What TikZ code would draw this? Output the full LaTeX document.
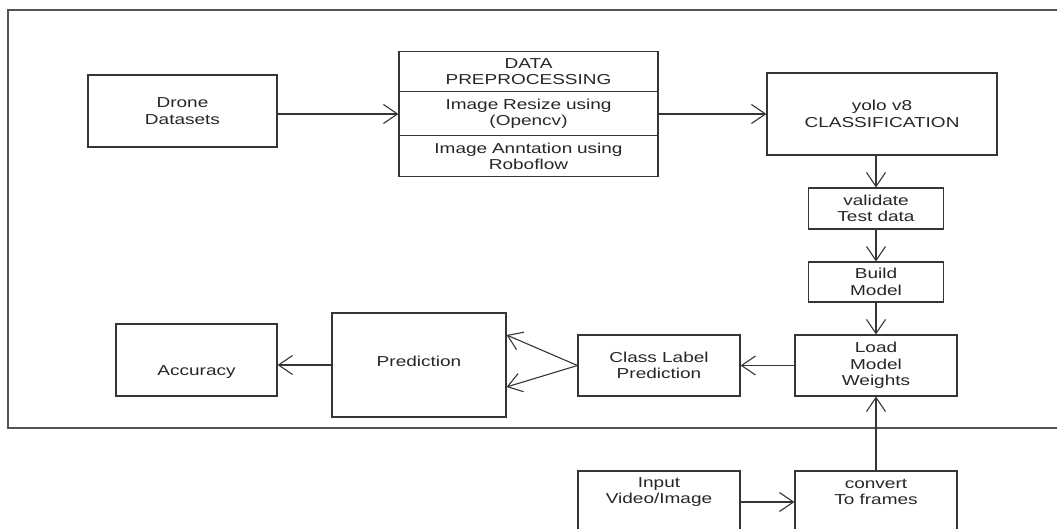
\documentclass[tikz,border=0pt]{standalone}
\usepackage{fontspec}
\setmainfont{Liberation Sans}[FakeStretch=1.32]
\usetikzlibrary{arrows.meta,shapes.multipart}
\definecolor{linec}{HTML}{353535}
\definecolor{textc}{HTML}{262626}

\begin{document}
\begin{tikzpicture}[x=1pt, y=-1pt, font=\fontsize{14.4}{16.5}\selectfont,
    blk/.style={draw=linec, line width=1.1pt, align=center, text=textc, inner sep=0pt},
    txt/.style={align=center, text=textc, inner sep=0pt},
    flow/.style={draw=linec, line width=1.1pt, -{Straight Barb[length=14pt,width=19pt,line width=1.1pt]}}]
        \useasboundingbox (0,0) rectangle (1057,529);
        \clip (0,0) rectangle (1057,529);
        \draw[draw=linec!85, line width=1.4pt] (8,10) rectangle (1100,428);
        \node[blk, minimum width=189, minimum height=72] (drone) at (182.5,111) {Drone\\Datasets};
        \node[blk, rectangle split, rectangle split parts=3, text width=259, inner xsep=0pt, inner ysep=6.5pt] (dp) at (528.5,114)
          {DATA\\PREPROCESSING\nodepart{two}Image Resize using\\(Opencv)\nodepart{three}Image Anntation using\\Roboflow};
        \node[blk, minimum width=230, minimum height=82] (yolo) at (882,114) {yolo v8\\CLASSIFICATION};
        \node[blk, minimum width=135, minimum height=41] (valid) at (876,208.5) {validate\\Test data};
        \node[blk, minimum width=135, minimum height=40] (build) at (876,282) {Build\\Model};
        \node[blk, minimum width=162, minimum height=61] (load) at (876,365.5) {Load\\Model\\Weights};
        \node[blk, minimum width=162, minimum height=61] (cls) at (659,365.5) {Class Label\\Prediction};
        \node[blk, minimum width=174, minimum height=104] (pred) at (419,365) {};
        \node[txt] (predtxt) at (419,361) {Prediction};
        \node[blk, minimum width=161, minimum height=72] (acc) at (196.5,360) {};
        \node[txt] (acctxt) at (196.5,372) {Accuracy};
        \node[blk, minimum width=162, minimum height=88] (inp) at (659,515) {};
        \node[txt] (inptxt) at (659,492) {Input\\Video/Image};
        \node[blk, minimum width=162, minimum height=88] (conv) at (876,515) {};
        \node[txt] (convtxt) at (876,492) {convert\\To frames};
        \draw[flow] (dp.west -| drone.east) -- (dp.west);
        \draw[flow] (dp.east) -- (yolo.west);
        \draw[flow] (valid.north |- yolo.south) -- (valid.north);
        \draw[flow] (valid) -- (build);
        \draw[flow] (build) -- (load);
        \draw[flow] (load) -- (cls);
        \draw[flow] (cls.west) -- ([yshift=30pt]pred.east);
        \draw[flow] (cls.west) -- ([yshift=-22pt]pred.east);
        \draw[flow] (pred.west) -- (pred.west -| acc.east);
        \draw[flow] ([yshift=13pt]inp.east) -- ([yshift=13pt]conv.west);
        \draw[flow] (conv) -- (load);
      \end{tikzpicture}
\end{document}
